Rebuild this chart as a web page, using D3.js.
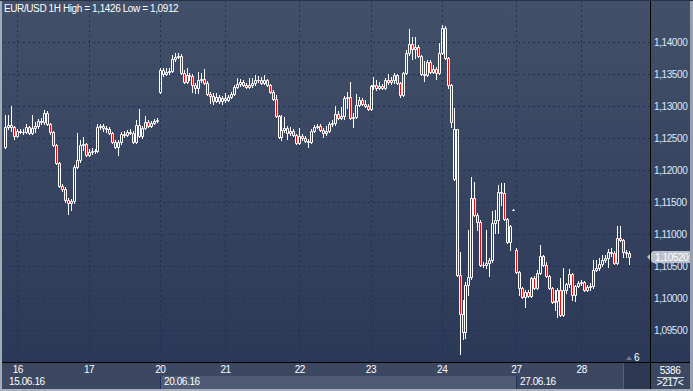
<!DOCTYPE html>
<html>
<head>
<meta charset="utf-8">
<script src="https://cdn.jsdelivr.net/npm/d3@7"></script>
<style>
  html,body{margin:0;padding:0;background:#2b3958;}
  svg{display:block;}
  text{font-family:"Liberation Sans",Arial,sans-serif;font-size:10px;letter-spacing:-0.4px;}
</style>
</head>
<body>
<div id="chart"></div>
<script>
// EUR/USD 1H candles
const title = "EUR/USD 1H High = 1,1426 Low = 1,0912";
const open = [
 1.1236,1.1267,1.1270,1.1267,1.1253,1.1261,1.1260,1.1259,1.1267,1.1258,
 1.1266,1.1269,1.1277,1.1275,1.1289,1.1272,1.1259,1.1239,1.1211,1.1175,
 1.1170,1.1153,1.1148,1.1152,1.1205,1.1216,1.1239,1.1241,1.1223,1.1228,
 1.1230,1.1229,1.1267,1.1269,1.1266,1.1264,1.1258,1.1244,1.1236,1.1244,
 1.1256,1.1255,1.1259,1.1258,1.1244,1.1270,1.1253,1.1266,1.1275,1.1269,
 1.1273,1.1277,1.1322,1.1356,1.1350,1.1353,1.1355,1.1373,1.1377,1.1378,
 1.1352,1.1337,1.1348,1.1347,1.1333,1.1328,1.1341,1.1342,1.1336,1.1319,
 1.1316,1.1308,1.1314,1.1308,1.1313,1.1309,1.1314,1.1319,1.1330,1.1334,
 1.1337,1.1333,1.1330,1.1333,1.1336,1.1341,1.1340,1.1336,1.1341,1.1333,
 1.1322,1.1311,1.1284,1.1252,1.1263,1.1266,1.1258,1.1261,1.1255,1.1242,
 1.1253,1.1250,1.1245,1.1244,1.1261,1.1267,1.1269,1.1263,1.1258,1.1261,
 1.1272,1.1273,1.1288,1.1281,1.1284,1.1313,1.1314,1.1281,1.1283,1.1302,
 1.1309,1.1303,1.1300,1.1295,1.1331,1.1333,1.1328,1.1331,1.1328,1.1341,
 1.1337,1.1341,1.1348,1.1336,1.1317,1.1352,1.1383,1.1397,1.1389,1.1392,
 1.1378,1.1350,1.1348,1.1369,1.1353,1.1358,1.1352,1.1383,1.1422,1.1375,
 1.1333,1.1186,1.1264,1.1036,1.0975,1.0947,1.1020,1.1033,1.1156,1.1130,
 1.1119,1.1052,1.1051,1.1055,1.1059,1.1117,1.1122,1.1166,1.1164,1.1123,
 1.1088,1.1138,1.1075,1.1041,1.1016,1.1002,1.1009,1.1003,1.1031,1.1016,
 1.1039,1.1066,1.1052,1.1034,1.1016,1.0994,1.0995,1.1013,1.0973,1.1013,
 1.1022,1.1038,1.1005,1.1019,1.1023,1.1025,1.1013,1.1017,1.1019,1.1044,
 1.1047,1.1053,1.1059,1.1063,1.1072,1.1070,1.1055,1.1094,1.1091,1.1072,
 1.1071];
const high = [
 1.1286,1.1286,1.1300,1.1269,1.1264,1.1264,1.1264,1.1272,1.1269,1.1286,
 1.1275,1.1280,1.1281,1.1294,1.1292,1.1273,1.1261,1.1241,1.1213,1.1178,
 1.1173,1.1156,1.1155,1.1208,1.1258,1.1247,1.1252,1.1242,1.1233,1.1234,
 1.1233,1.1272,1.1272,1.1272,1.1269,1.1267,1.1259,1.1247,1.1247,1.1259,
 1.1261,1.1263,1.1264,1.1261,1.1278,1.1295,1.1269,1.1284,1.1278,1.1277,
 1.1280,1.1281,1.1359,1.1359,1.1359,1.1359,1.1380,1.1383,1.1383,1.1381,
 1.1356,1.1359,1.1352,1.1350,1.1336,1.1353,1.1352,1.1358,1.1339,1.1322,
 1.1320,1.1320,1.1317,1.1316,1.1320,1.1317,1.1322,1.1333,1.1344,1.1342,
 1.1341,1.1336,1.1344,1.1344,1.1348,1.1347,1.1345,1.1348,1.1342,1.1334,
 1.1325,1.1317,1.1286,1.1286,1.1283,1.1269,1.1267,1.1264,1.1256,1.1266,
 1.1256,1.1253,1.1248,1.1264,1.1270,1.1272,1.1272,1.1266,1.1269,1.1275,
 1.1278,1.1300,1.1292,1.1298,1.1316,1.1322,1.1337,1.1289,1.1319,1.1314,
 1.1313,1.1309,1.1303,1.1333,1.1345,1.1341,1.1337,1.1334,1.1344,1.1350,
 1.1345,1.1352,1.1350,1.1337,1.1353,1.1388,1.1420,1.1408,1.1408,1.1395,
 1.1380,1.1370,1.1372,1.1372,1.1364,1.1361,1.1398,1.1426,1.1425,1.1377,
 1.1334,1.1297,1.1264,1.1072,1.0997,1.1025,1.1106,1.1189,1.1181,1.1133,
 1.1122,1.1056,1.1106,1.1063,1.1136,1.1138,1.1177,1.1180,1.1180,1.1125,
 1.1114,1.1139,1.1078,1.1042,1.1017,1.1013,1.1013,1.1033,1.1034,1.1044,
 1.1083,1.1067,1.1056,1.1036,1.1017,1.1013,1.1016,1.1031,1.1047,1.1023,
 1.1045,1.1039,1.1020,1.1027,1.1028,1.1027,1.1020,1.1023,1.1059,1.1059,
 1.1063,1.1067,1.1067,1.1077,1.1078,1.1073,1.1113,1.1113,1.1092,1.1075,
 1.1073];
const low = [
 1.1234,1.1264,1.1261,1.1248,1.1252,1.1258,1.1256,1.1258,1.1256,1.1256,
 1.1259,1.1266,1.1272,1.1272,1.1270,1.1256,1.1238,1.1209,1.1173,1.1167,
 1.1150,1.1131,1.1138,1.1148,1.1203,1.1213,1.1231,1.1222,1.1222,1.1225,
 1.1227,1.1228,1.1264,1.1261,1.1259,1.1256,1.1242,1.1234,1.1223,1.1241,
 1.1252,1.1253,1.1256,1.1242,1.1242,1.1252,1.1250,1.1264,1.1267,1.1267,
 1.1272,1.1275,1.1320,1.1347,1.1348,1.1350,1.1353,1.1370,1.1375,1.1350,
 1.1336,1.1336,1.1341,1.1322,1.1320,1.1320,1.1337,1.1334,1.1317,1.1305,
 1.1303,1.1306,1.1305,1.1303,1.1306,1.1308,1.1313,1.1317,1.1328,1.1331,
 1.1331,1.1328,1.1328,1.1330,1.1333,1.1337,1.1334,1.1334,1.1331,1.1320,
 1.1309,1.1283,1.1250,1.1247,1.1259,1.1248,1.1255,1.1253,1.1241,1.1241,
 1.1247,1.1244,1.1236,1.1242,1.1259,1.1266,1.1261,1.1252,1.1255,1.1259,
 1.1269,1.1270,1.1280,1.1280,1.1280,1.1297,1.1280,1.1267,1.1281,1.1300,
 1.1302,1.1298,1.1294,1.1294,1.1327,1.1325,1.1327,1.1327,1.1327,1.1334,
 1.1334,1.1336,1.1334,1.1314,1.1316,1.1350,1.1380,1.1373,1.1375,1.1377,
 1.1348,1.1339,1.1347,1.1352,1.1352,1.1342,1.1350,1.1381,1.1373,1.1328,
 1.1267,1.1184,1.1034,1.0912,1.0936,1.0938,1.1005,1.1030,1.1128,1.1106,
 1.1050,1.1048,1.1047,1.1034,1.1056,1.1102,1.1102,1.1145,1.1122,1.1086,
 1.1075,1.1137,1.1039,1.1005,1.1000,1.0986,1.1002,1.1002,1.1014,1.1014,
 1.1038,1.1050,1.1033,1.1014,1.0992,1.0981,1.0970,1.0972,1.0972,1.1008,
 1.1017,1.0997,1.0995,1.1017,1.1020,1.1011,1.1011,1.1013,1.1016,1.1042,
 1.1044,1.1050,1.1056,1.1048,1.1066,1.1053,1.1053,1.1089,1.1064,1.1064,
 1.1053];
const close = [
 1.1267,1.1270,1.1267,1.1253,1.1261,1.1260,1.1259,1.1267,1.1258,1.1266,
 1.1269,1.1277,1.1275,1.1289,1.1272,1.1259,1.1239,1.1211,1.1175,1.1170,
 1.1153,1.1148,1.1152,1.1205,1.1216,1.1239,1.1241,1.1223,1.1228,1.1230,
 1.1229,1.1267,1.1269,1.1266,1.1264,1.1258,1.1244,1.1236,1.1244,1.1256,
 1.1255,1.1259,1.1258,1.1244,1.1270,1.1253,1.1266,1.1275,1.1269,1.1273,
 1.1277,1.1278,1.1356,1.1350,1.1353,1.1355,1.1373,1.1377,1.1378,1.1352,
 1.1337,1.1348,1.1347,1.1333,1.1328,1.1341,1.1342,1.1336,1.1319,1.1316,
 1.1308,1.1314,1.1308,1.1313,1.1309,1.1314,1.1319,1.1330,1.1334,1.1337,
 1.1333,1.1330,1.1333,1.1336,1.1341,1.1340,1.1336,1.1341,1.1333,1.1322,
 1.1311,1.1284,1.1252,1.1263,1.1266,1.1258,1.1261,1.1255,1.1242,1.1253,
 1.1250,1.1245,1.1244,1.1261,1.1267,1.1269,1.1263,1.1258,1.1261,1.1272,
 1.1273,1.1288,1.1281,1.1284,1.1313,1.1314,1.1281,1.1283,1.1302,1.1309,
 1.1303,1.1300,1.1295,1.1331,1.1333,1.1328,1.1331,1.1328,1.1341,1.1337,
 1.1341,1.1348,1.1336,1.1317,1.1352,1.1383,1.1397,1.1389,1.1392,1.1378,
 1.1350,1.1348,1.1369,1.1353,1.1358,1.1352,1.1383,1.1422,1.1375,1.1333,
 1.1275,1.1264,1.1036,1.0975,1.0947,1.1020,1.1033,1.1156,1.1130,1.1119,
 1.1052,1.1051,1.1055,1.1059,1.1117,1.1122,1.1166,1.1164,1.1123,1.1088,
 1.1113,1.1138,1.1041,1.1016,1.1002,1.1009,1.1003,1.1031,1.1016,1.1039,
 1.1066,1.1052,1.1034,1.1016,1.0994,1.0995,1.1013,1.0973,1.1013,1.1022,
 1.1038,1.1005,1.1019,1.1023,1.1025,1.1013,1.1017,1.1019,1.1044,1.1047,
 1.1053,1.1059,1.1063,1.1072,1.1070,1.1055,1.1094,1.1091,1.1072,1.1071,
 1.1064];
// first bar of each day, and its label
const dayLabels = ["16","17","20","21","22","23","24","27","28"];
const dayStart  = [4,28,52,74,99,123,147,172,194];
const weekLabels = ["15.06.16","20.06.16","27.06.16"];
const weekStart  = [0,52,172];
const priceTicks = [1.095,1.100,1.105,1.110,1.115,1.120,1.125,1.130,1.135,1.140];
const bid = 1.1052;
const barsCount = "5386", barsShown = ">217<", zoomLevel = "6";

const W=693, H=391;
const plotRight=650, plotBottom=362;
const N=close.length;

const svg=d3.select("#chart").append("svg").attr("width",W).attr("height",H);
const defs=svg.append("defs");
const grad=defs.append("linearGradient").attr("id","bg").attr("x1",0).attr("x2",0).attr("y1",0).attr("y2",1);
grad.append("stop").attr("offset","0%").attr("stop-color","#435069");
grad.append("stop").attr("offset","100%").attr("stop-color","#2b3958");

svg.append("rect").attr("width",W).attr("height",plotBottom).attr("fill","url(#bg)");

const x=d3.scaleBand().domain(d3.range(N)).range([4,630.2]).paddingInner(0);
const xc=i=>x(i)+x.step()/2;
const y=d3.scaleLinear().domain([1.095,1.140]).range([330,42]);
const py=v=>Math.round(y(v));

// grid
const grid=svg.append("g").attr("class","grid");
grid.selectAll("line.h").data(priceTicks).enter().append("line").attr("class","h")
    .attr("x1",3).attr("x2",plotRight).attr("y1",d=>py(d)+0.5).attr("y2",d=>py(d)+0.5);
grid.selectAll("line.v").data(dayStart).enter().append("line").attr("class","v")
    .attr("x1",d=>Math.round(xc(d))+0.5).attr("x2",d=>Math.round(xc(d))+0.5)
    .attr("y1",0).attr("y2",plotBottom);
grid.selectAll("line").attr("stroke","#1c3056").attr("stroke-width",1).attr("stroke-dasharray","2,3");

// candles
const candles=svg.append("g").selectAll("g").data(d3.range(N)).enter().append("g");
candles.each(function(i){
    const g=d3.select(this);
    const a=Math.round(xc(i))-1;
    const top=py(Math.max(open[i],close[i])), bot=py(Math.min(open[i],close[i]));
    const hi=py(high[i]), lo=py(low[i]);
    if (hi<top) g.append("line").attr("x1",a+1.5).attr("x2",a+1.5).attr("y1",hi).attr("y2",top).attr("stroke","#fff");
    if (lo>bot) g.append("line").attr("x1",a+1.5).attr("x2",a+1.5).attr("y1",bot).attr("y2",lo+1).attr("stroke","#fff");
    g.append("path")
     .attr("d","M"+(a+0.5)+","+(top+0.5)+"H"+(a+2.5)+"V"+(bot+0.5)+"H"+(a+0.5)+"Z")
     .attr("fill",close[i]<open[i]?"#ff0000":"none")
     .attr("stroke","#fff").attr("stroke-width",1);
});

// title
svg.append("text").attr("x",4).attr("y",12).attr("fill","#ffffff").text(title);

// price axis
svg.append("rect").attr("x",plotRight).attr("y",0).attr("width",W-plotRight).attr("height",plotBottom).attr("fill","url(#bg)");
const fmt=v=>d3.format(".5f")(v).replace(".",",");
const yAxis=d3.axisRight(y).tickValues(priceTicks).tickSize(0).tickPadding(4).tickFormat(fmt);
const ya=svg.append("g").attr("transform","translate("+plotRight+",0)").call(yAxis);
ya.select(".domain").remove();
ya.selectAll("text").attr("fill","#dfe8f6").style("font-family","'Liberation Sans',Arial,sans-serif").style("font-size","10px");

// current price marker
const by=py(close[N-1]);
const marker=svg.append("g").attr("transform","translate("+plotRight+","+by+")");
marker.append("path").attr("d","M-3,0L3,-6H40V6H3Z").attr("fill","#b9c0cd");
marker.append("text").attr("x",5).attr("y",4).attr("fill","#ffffff").text(fmt(bid));

// bottom time axis
svg.append("rect").attr("x",0).attr("y",plotBottom).attr("width",W).attr("height",H-plotBottom).attr("fill","#3c4862");
svg.append("rect").attr("x",Math.round(xc(weekStart[1]))+1).attr("y",376)
   .attr("width",Math.round(xc(weekStart[2]))-Math.round(xc(weekStart[1]))-1).attr("height",13).attr("fill","#4f5b74");
svg.selectAll("line.wk").data(weekStart.slice(1)).enter().append("line")
   .attr("x1",d=>Math.round(xc(d))+0.5).attr("x2",d=>Math.round(xc(d))+0.5)
   .attr("y1",376).attr("y2",389).attr("stroke","#1e3159");
svg.selectAll("text.day").data(dayLabels).enter().append("text").attr("class","day")
   .attr("x",(d,k)=>xc(dayStart[k])+0.5).attr("y",373).attr("text-anchor","middle")
   .attr("fill","#ffffff").text(d=>d);
svg.selectAll("text.wk").data(weekLabels).enter().append("text").attr("class","wk")
   .attr("x",(d,k)=>Math.round(xc(weekStart[k]))+4).attr("y",385)
   .attr("fill","#ffffff").text(d=>d);

// scroll thumb + zoom
svg.append("rect").attr("x",623).attr("y",363).attr("width",27).attr("height",26).attr("fill","#2d3953");
svg.append("line").attr("x1",623.5).attr("x2",623.5).attr("y1",363).attr("y2",389).attr("stroke","#56627a");
svg.append("path").attr("d","M626,360L629,356L632,360Z").attr("fill","#6f7a90");
svg.append("text").attr("x",634).attr("y",361).attr("fill","#ffffff").text(zoomLevel);

// counters box
svg.append("text").attr("x",670).attr("y",374).attr("text-anchor","middle").attr("fill","#ffffff").text(barsCount);
svg.append("line").attr("x1",657).attr("x2",684).attr("y1",377.5).attr("y2",377.5).attr("stroke","#c8ceda");
svg.append("text").attr("x",670).attr("y",386).attr("text-anchor","middle").attr("fill","#ffffff").text(barsShown);

// frame lines
svg.append("line").attr("x1",plotRight+0.5).attr("x2",plotRight+0.5).attr("y1",0).attr("y2",389).attr("stroke","#000");
svg.append("line").attr("x1",0).attr("x2",W).attr("y1",plotBottom+0.5).attr("y2",plotBottom+0.5).attr("stroke","#000");
svg.append("rect").attr("x",0).attr("y",0).attr("width",2).attr("height",H).attr("fill","#a3abb9");
svg.append("rect").attr("x",0).attr("y",389).attr("width",W).attr("height",2).attr("fill","#a8b0be");
svg.append("rect").attr("x",690).attr("y",0).attr("width",3).attr("height",H).attr("fill","#98a1b2");
svg.append("rect").attr("x",0).attr("y",0).attr("width",W).attr("height",1).attr("fill","#2a3346");
</script>
</body>
</html>
